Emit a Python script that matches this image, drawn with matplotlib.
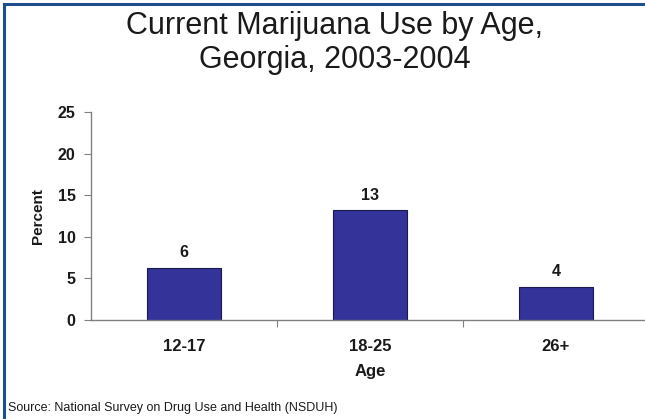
import matplotlib
matplotlib.use("Agg")
import matplotlib.pyplot as plt
from matplotlib.lines import Line2D

categories = ["12-17", "18-25", "26+"]
values = [6.3, 13.2, 4.0]
labels = ["6", "13", "4"]
yticks = [0, 5, 10, 15, 20, 25]

plt.rcParams['font.family'] = ['Liberation Sans', 'DejaVu Sans']

fig = plt.figure(figsize=(6.45, 4.19), dpi=100)
ax = fig.add_axes([91/645, 1-320/419, 558/645, (320-112)/419])

x = list(range(len(categories)))
ax.bar(x, values, width=0.40, color="#333399", edgecolor="#1a1a4d", linewidth=0.8)
for xi, v, lab in zip(x, values, labels):
    ax.text(xi, v + 0.9, lab, ha="center", va="bottom", fontsize=11.5, fontweight="bold", color="#1a1a1a")

ax.set_xlim(-0.5, 2.5)
ax.set_ylim(0, 25)
ax.set_yticks(yticks)
ax.set_yticklabels([str(t) for t in yticks], fontsize=11.5, fontweight="bold", color="#1a1a1a")
ax.set_xticks([0.5, 1.5])
ax.set_xticklabels([])
ax.set_xticks(x, minor=True)
ax.set_xticklabels(categories, minor=True, fontsize=12, fontweight="bold", color="#1a1a1a")
ax.tick_params(axis="x", which="minor", length=0, pad=14)
ax.tick_params(axis="x", which="major", length=5, color="#808080")
ax.tick_params(axis="y", length=5, color="#808080", pad=6)
for s in ["top", "right"]:
    ax.spines[s].set_visible(False)
for s in ["left", "bottom"]:
    ax.spines[s].set_color("#808080")
    ax.spines[s].set_linewidth(1.0)
ax.set_ylabel("Percent", fontsize=11, fontweight="bold", labelpad=9, color="#1a1a1a")
ax.set_xlabel("Age", fontsize=12, fontweight="bold", labelpad=7, color="#1a1a1a")

fig.text(335/645, 1-43/419, "Current Marijuana Use by Age,\nGeorgia, 2003-2004",
         ha="center", va="center", fontsize=22, linespacing=1.18, color="#1a1a1a")
fig.text(8/645, 1-408/419, "Source: National Survey on Drug Use and Health (NSDUH)",
         ha="left", va="center", fontsize=9, color="#1a1a1a")

border = "#1f4e8c"
fig.add_artist(Line2D([4/645, 4/645], [0, 1-4/419], transform=fig.transFigure, color=border, linewidth=2.2))
fig.add_artist(Line2D([4/645, 1], [1-4/419, 1-4/419], transform=fig.transFigure, color=border, linewidth=2.2))

fig.savefig("out.png", dpi=100)
